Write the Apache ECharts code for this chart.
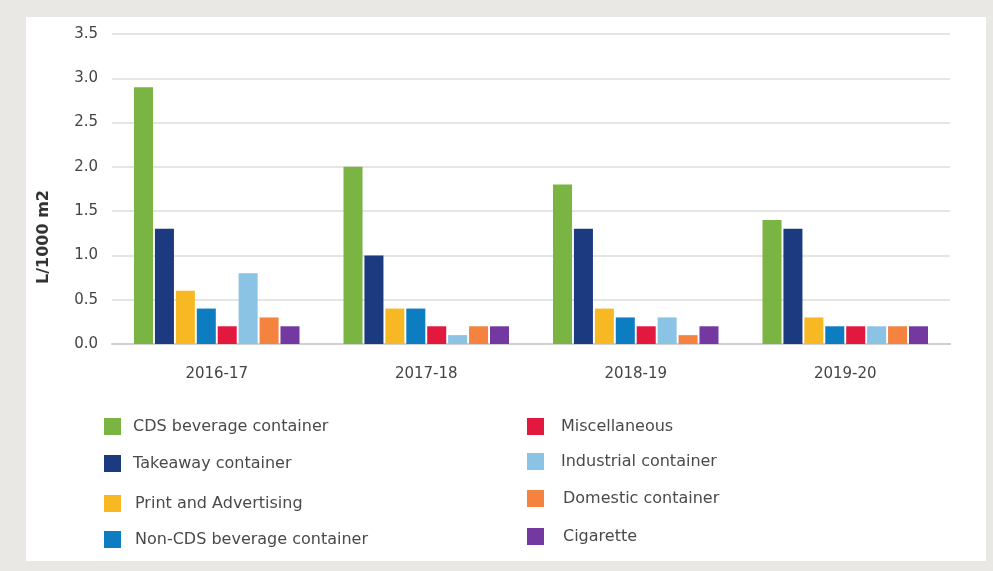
<!DOCTYPE html>
<html>
<head>
<meta charset="utf-8">
<script src="https://cdn.jsdelivr.net/npm/echarts@6/dist/echarts.min.js"></script>
<style>html,body{margin:0;padding:0;background:#e9e8e4;}#c{width:993px;height:571px;}</style>
</head>
<body>
<div id="c"></div>
<script>
const categories = ['2016-17', '2017-18', '2018-19', '2019-20'];
const seriesNames = ['CDS beverage container', 'Takeaway container', 'Print and Advertising', 'Non-CDS beverage container', 'Miscellaneous', 'Industrial container', 'Domestic container', 'Cigarette'];
const cdsBeverage = [2.9, 2.0, 1.8, 1.4];
const takeaway = [1.3, 1.0, 1.3, 1.3];
const printAdvertising = [0.6, 0.4, 0.4, 0.3];
const nonCdsBeverage = [0.4, 0.4, 0.3, 0.2];
const miscellaneous = [0.2, 0.2, 0.2, 0.2];
const industrial = [0.8, 0.1, 0.3, 0.2];
const domestic = [0.3, 0.2, 0.1, 0.2];
const cigarette = [0.2, 0.2, 0.2, 0.2];
const yTicks = ['0.0', '0.5', '1.0', '1.5', '2.0', '2.5', '3.0', '3.5'];

const values = [cdsBeverage, takeaway, printAdvertising, nonCdsBeverage, miscellaneous, industrial, domestic, cigarette];
const colors = ['#7ab443', '#1b3a7f', '#f8b823', '#0b7dc0', '#e2183f', '#8bc3e5', '#f4833f', '#7339a0'];
const FONT = 'DejaVu Sans';

const legendPos = [
  [104, 427, 12], [104, 464, 12], [104, 504, 14], [104, 540, 14],
  [527, 427, 17], [527, 462, 17], [527, 499, 19], [527, 537, 19]
];
const legends = seriesNames.map((n, i) => ({
  data: [n],
  left: legendPos[i][0],
  top: legendPos[i][1] - 9,
  padding: 0,
  itemWidth: 17,
  itemHeight: 17,
  icon: 'rect',
  itemGap: 0,
  textStyle: { fontFamily: FONT, fontSize: 16, color: '#4a4a4a', padding: [0, 0, 0, legendPos[i][2] - 5] },
  selectedMode: false
}));

const chart = echarts.init(document.getElementById('c'));
chart.setOption({
  backgroundColor: '#e9e8e4',
  animation: false,
  graphic: [
    { type: 'rect', shape: { x: 26, y: 17, width: 960, height: 544 }, style: { fill: '#ffffff' }, z: -10, silent: true },
    { type: 'text', x: 44, y: 237, rotation: Math.PI / 2, style: { text: 'L/1000 m2', fontFamily: FONT, fontSize: 16, fontWeight: 'bold', fill: '#333', align: 'center', verticalAlign: 'middle' } }
  ],
  legend: legends,
  grid: { left: 112, right: 43, top: 34, bottom: 227, containLabel: false },
  xAxis: {
    type: 'category',
    data: categories,
    axisTick: { show: false },
    axisLine: { lineStyle: { color: '#d0d0d0', width: 2 } },
    axisLabel: { fontFamily: FONT, fontSize: 15, color: '#444', margin: 23 }
  },
  yAxis: {
    type: 'value',
    min: 0, max: 3.5, interval: 0.5,
    axisLine: { show: false },
    axisTick: { show: false },
    splitLine: { lineStyle: { color: '#dcdcdc', width: 1.5 } },
    axisLabel: { fontFamily: FONT, fontSize: 15, color: '#444', margin: 14, formatter: v => yTicks[Math.round(v / 0.5)] }
  },
  series: seriesNames.map((n, i) => ({
    name: n,
    type: 'bar',
    data: values[i],
    itemStyle: { color: colors[i] },
    barGap: '10%',
    barCategoryGap: '21%'
  }))
});
</script>
</body>
</html>
